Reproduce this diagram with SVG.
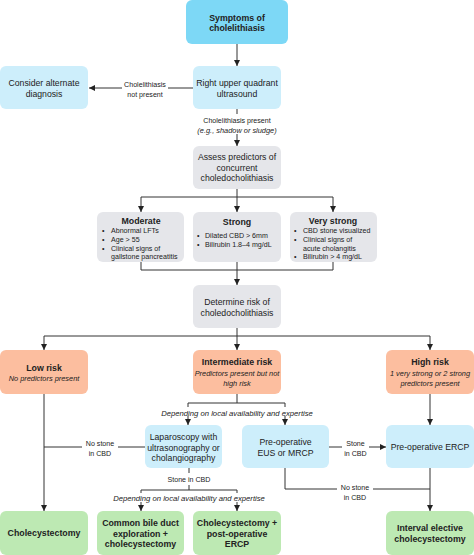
<svg xmlns="http://www.w3.org/2000/svg" width="474" height="555" viewBox="0 0 474 555">
<defs>
<marker id="ah" viewBox="0 0 6 6" refX="6" refY="3" markerWidth="6" markerHeight="6" orient="auto" markerUnits="userSpaceOnUse">
<path d="M0,0 L6,3 L0,6 z" fill="#222"/>
</marker>
<style>
text{font-family:"Liberation Sans",Arial,sans-serif;fill:#222;text-anchor:middle}
.t{font-size:8.7px}
.b{font-size:8.8px;font-weight:bold}
.s{font-size:7.1px}
.i{font-size:7.4px;font-style:italic}
.d{font-size:7.7px;font-style:italic}
.bl{font-size:7.1px;text-anchor:start}
.top{fill:#7dd8f6}
.lb{fill:#cdeefb}
.gr{fill:#e5e6ea}
.sa{fill:#fcbe9f}
.gn{fill:#bde9b3}
.c{stroke:#333;stroke-width:1;fill:none}
.a{stroke:#333;stroke-width:1;fill:none;marker-end:url(#ah)}
</style>
</defs>
<rect width="474" height="555" fill="#fff"/>
<g id="connectors">
<line class="a" x1="237" y1="44" x2="237" y2="66"/>
<polyline class="c" points="193,88 168,88"/>
<line class="a" x1="122" y1="88" x2="89" y2="88"/>
<line class="c" x1="237" y1="109" x2="237" y2="114"/>
<line class="a" x1="237" y1="134" x2="237" y2="146"/>
<polyline class="c" points="237,189 237,197"/>
<polyline class="c" points="141,197 333,197"/>
<line class="a" x1="141" y1="197" x2="141" y2="212"/>
<line class="a" x1="237" y1="197" x2="237" y2="212"/>
<line class="a" x1="333" y1="197" x2="333" y2="212"/>
<polyline class="c" points="141,262 141,270 333,270 333,262"/>
<line class="c" x1="237" y1="262" x2="237" y2="270"/>
<line class="a" x1="237" y1="270" x2="237" y2="285"/>
<polyline class="c" points="237,328 237,336"/>
<polyline class="c" points="44,336 430,336"/>
<line class="a" x1="44" y1="336" x2="44" y2="350"/>
<line class="a" x1="237" y1="336" x2="237" y2="350"/>
<line class="a" x1="430" y1="336" x2="430" y2="350"/>
<polyline class="c" points="237,394 237,403"/>
<polyline class="c" points="188,407 188,403 285,403 285,407"/>
<line class="a" x1="188" y1="416" x2="188" y2="425"/>
<line class="a" x1="285" y1="416" x2="285" y2="425"/>
<line class="a" x1="44" y1="394" x2="44" y2="511"/>
<line class="c" x1="145" y1="447" x2="118" y2="447"/>
<line class="c" x1="82" y1="447" x2="44" y2="447"/>
<line class="c" x1="329" y1="447" x2="342" y2="447"/>
<line class="a" x1="369" y1="447" x2="386" y2="447"/>
<line class="a" x1="430" y1="394" x2="430" y2="425"/>
<line class="c" x1="189" y1="468" x2="189" y2="473"/>
<line class="c" x1="189" y1="485" x2="189" y2="490"/>
<polyline class="c" points="141,493 141,490 237,490 237,493"/>
<line class="a" x1="141" y1="502" x2="141" y2="511"/>
<line class="a" x1="237" y1="502" x2="237" y2="511"/>
<polyline class="c" points="285,468 285,489 337,489"/>
<line class="c" x1="373" y1="489" x2="430" y2="489"/>
<line class="a" x1="430" y1="468" x2="430" y2="511"/>
<text class="s" x="145" y="86.5">Cholelithiasis</text>
<text class="s" x="145" y="96.5">not present</text>
<text class="s" x="237" y="122.5">Cholelithiasis present</text>
<text class="i" x="237" y="133">(e.g., shadow or sludge)</text>
<text class="d" x="237" y="415.5">Depending on local availability and expertise</text>
<text class="s" x="100" y="445.5">No stone</text>
<text class="s" x="100" y="455.5">in CBD</text>
<text class="s" x="355.5" y="446">Stone</text>
<text class="s" x="355.5" y="456">in CBD</text>
<text class="s" x="189" y="482">Stone in CBD</text>
<text class="d" x="189" y="500.5">Depending on local availability and expertise</text>
<text class="s" x="355" y="489.5">No stone</text>
<text class="s" x="355" y="499.5">in CBD</text>
</g>
<g id="symptoms"><rect class="top" x="186" y="0" width="102" height="44" rx="6"/>
<text class="b" x="237" y="20.5">Symptoms of</text><text class="b" x="237" y="31">cholelithiasis</text></g>
<g id="ruq"><rect class="lb" x="193" y="66" width="88" height="43" rx="6"/>
<text class="t" x="237" y="86">Right upper quadrant</text><text class="t" x="237" y="96.5">ultrasound</text></g>
<g id="alternate"><rect class="lb" x="0" y="66" width="88" height="43" rx="6"/>
<text class="t" x="44" y="86">Consider alternate</text><text class="t" x="44" y="96.5">diagnosis</text></g>
<g id="assess"><rect class="gr" x="193" y="146" width="88" height="43" rx="6"/>
<text class="t" x="237" y="160">Assess predictors of</text><text class="t" x="237" y="170.5">concurrent</text><text class="t" x="237" y="181">choledocholithiasis</text></g>
<g id="moderate"><rect class="gr" x="97" y="212" width="87" height="50" rx="6"/>
<text class="b" x="141" y="223.5">Moderate</text>
<text class="bl" x="102" y="232.5">•</text><text class="bl" x="111" y="232.5">Abnormal LFTs</text>
<text class="bl" x="102" y="241.5">•</text><text class="bl" x="111" y="241.5">Age &gt; 55</text>
<text class="bl" x="102" y="250.5">•</text><text class="bl" x="111" y="250.5">Clinical signs of</text>
<text class="bl" x="111" y="259">gallstone pancreatitis</text></g>
<g id="strong"><rect class="gr" x="193" y="212" width="88" height="50" rx="6"/>
<text class="b" x="237" y="224.5">Strong</text>
<text class="bl" x="197" y="237.5">•</text><text class="bl" x="205" y="237.5">Dilated CBD &gt; 6mm</text>
<text class="bl" x="197" y="246.5">•</text><text class="bl" x="205" y="246.5">Bilirubin 1.8–4 mg/dL</text></g>
<g id="verystrong"><rect class="gr" x="290" y="212" width="87" height="50" rx="6"/>
<text class="b" x="333" y="223.5">Very strong</text>
<text class="bl" x="294" y="232.5">•</text><text class="bl" x="303" y="232.5">CBD stone visualized</text>
<text class="bl" x="294" y="241.5">•</text><text class="bl" x="303" y="241.5">Clinical signs of</text>
<text class="bl" x="303" y="250.5">acute cholangitis</text>
<text class="bl" x="294" y="259">•</text><text class="bl" x="303" y="259">Bilirubin &gt; 4 mg/dL</text></g>
<g id="determine"><rect class="gr" x="193" y="285" width="88" height="43" rx="6"/>
<text class="t" x="237" y="305">Determine risk of</text><text class="t" x="237" y="315.5">choledocholithiasis</text></g>
<g id="lowrisk"><rect class="sa" x="0" y="350" width="88" height="44" rx="6"/>
<text class="b" x="44" y="370.5">Low risk</text><text class="i" x="44" y="380.5">No predictors present</text></g>
<g id="intermediate"><rect class="sa" x="193" y="350" width="88" height="44" rx="6"/>
<text class="b" x="237" y="365">Intermediate risk</text><text class="i" x="237" y="375.5">Predictors present but not</text><text class="i" x="237" y="385.5">high risk</text></g>
<g id="highrisk"><rect class="sa" x="386" y="350" width="88" height="44" rx="6"/>
<text class="b" x="430" y="365">High risk</text><text class="i" x="430" y="375.5">1 very strong or 2 strong</text><text class="i" x="430" y="385.5">predictors present</text></g>
<g id="laparoscopy"><rect class="lb" x="145" y="425" width="77" height="43" rx="6"/>
<text class="t" x="183.5" y="440">Laparoscopy with</text><text class="t" x="183.5" y="450.5">ultrasonography or</text><text class="t" x="183.5" y="461">cholangiography</text></g>
<g id="eus"><rect class="lb" x="242" y="425" width="87" height="43" rx="6"/>
<text class="t" x="285.5" y="445">Pre-operative</text><text class="t" x="285.5" y="455.5">EUS or MRCP</text></g>
<g id="ercp"><rect class="lb" x="386" y="425" width="88" height="43" rx="6"/>
<text class="t" x="430" y="450">Pre-operative ERCP</text></g>
<g id="chole"><rect class="gn" x="0" y="511" width="88" height="44" rx="6"/>
<text class="b" x="44" y="536">Cholecystectomy</text></g>
<g id="cbdexp"><rect class="gn" x="97" y="511" width="87" height="44" rx="6"/>
<text class="b" x="140.5" y="526">Common bile duct</text><text class="b" x="140.5" y="536.5">exploration +</text><text class="b" x="140.5" y="547">cholecystectomy</text></g>
<g id="cholepost"><rect class="gn" x="193" y="511" width="88" height="44" rx="6"/>
<text class="b" x="237" y="526">Cholecystectomy +</text><text class="b" x="237" y="536.5">post-operative</text><text class="b" x="237" y="547">ERCP</text></g>
<g id="interval"><rect class="gn" x="386" y="511" width="88" height="44" rx="6"/>
<text class="b" x="430" y="531">Interval elective</text><text class="b" x="430" y="541.5">cholecystectomy</text></g>
</svg>
